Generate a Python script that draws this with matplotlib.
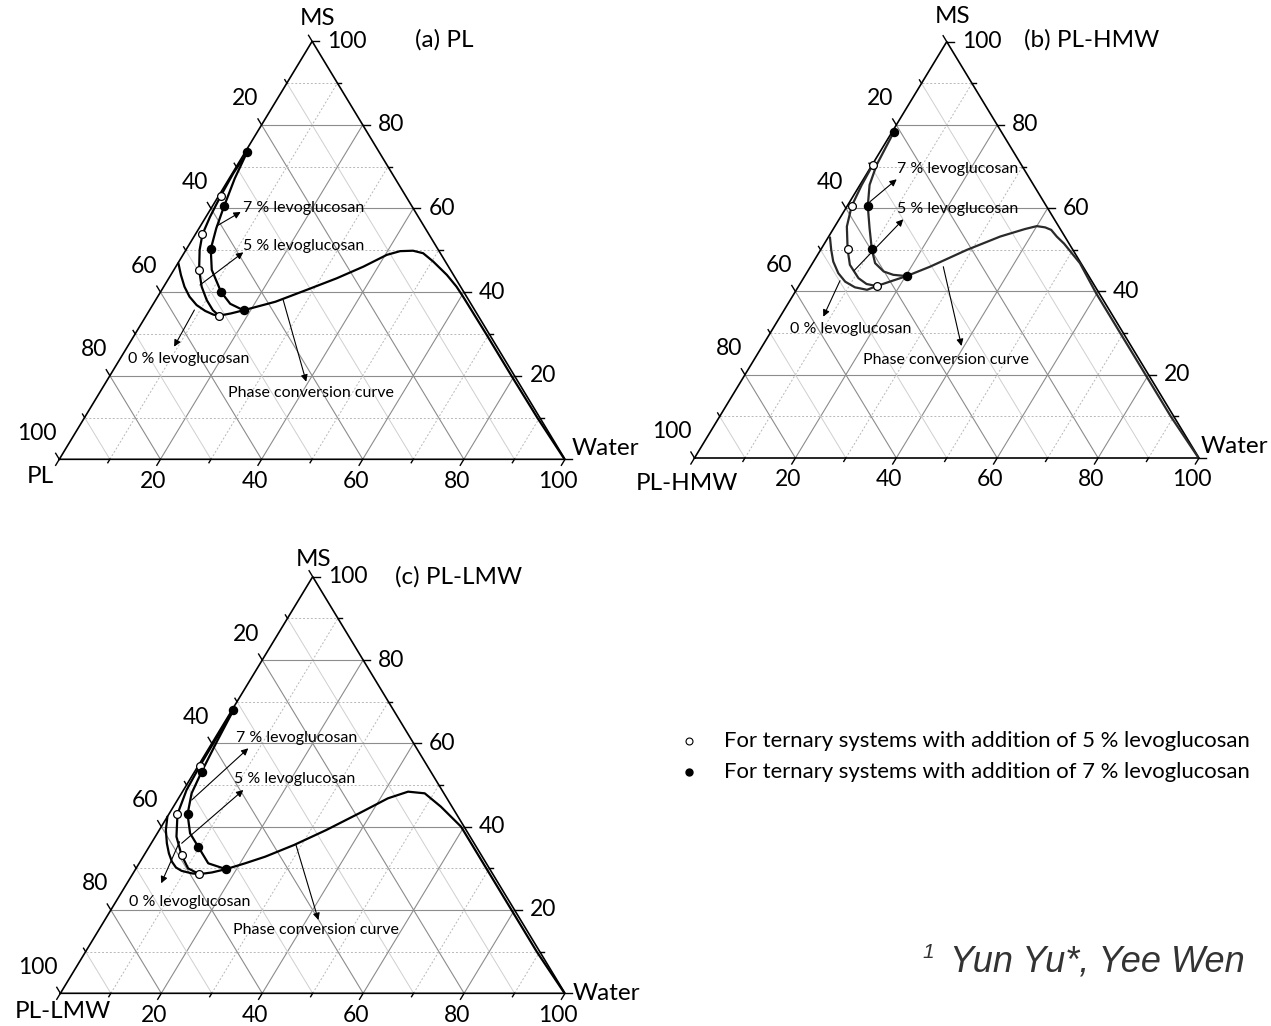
import matplotlib.pyplot as plt

plt.rcParams['font.family'] = ['Lato', 'DejaVu Sans']

# readings from the reference, as (Water %, MS %) pairs
# (a) PL
a_zero_water = [0.1, 2.0, 4.1, 6.3, 8.7, 11.1, 13.2, 14.4]
a_zero_ms = [46.9, 44.1, 41.3, 38.9, 36.9, 35.5, 34.6, 34.35]
a_five_water = [0.4, 0.2, 0.4, 0.8, 1.4, 2.7, 5.0, 7.5, 10.1, 12.5, 14.4]
a_five_ms = [73.4, 68.4, 63.1, 58.0, 53.8, 50.1, 45.3, 41.3, 38.1, 35.7, 34.35]
a_seven_water = [0.4, 1.1, 2.3, 3.4, 4.8, 7.5, 12.0, 15.2, 18.6]
a_seven_ms = [73.4, 67.2, 60.6, 55.3, 50.3, 45.3, 40.0, 37.2, 35.65]
a_open_water = [0.4, 1.4, 5.0, 14.4]
a_open_ms = [63.1, 53.8, 45.3, 34.35]
a_filled_water = [0.4, 2.3, 4.8, 12.0, 18.6]
a_filled_ms = [73.4, 60.6, 50.3, 40.0, 35.65]
a_phase_water = [14.4, 16.5, 18.6, 23.9, 28.6, 33.2, 37.1, 40.3, 42.5, 45.0, 47.3,
                 50.3, 54.6, 57.9, 60.4, 69.4, 79.4, 89.5, 99.6]
a_phase_ms = [34.35, 34.9, 35.65, 37.7, 40.5, 43.3, 46.1, 48.9, 49.8, 49.9, 49.3,
              47.3, 44.1, 41.3, 38.9, 30.0, 20.0, 10.0, 0.3]

# (b) PL-HMW
b_zero_water = [0.35, 2.1, 3.9, 6.3, 8.7, 11.3, 14.0, 15.45]
b_zero_ms = [53.0, 50.0, 47.2, 44.4, 42.35, 41.0, 40.4, 41.3]
b_five_water = [0.13, 0.35, 0.9, 2.4, 5.3, 7.6, 10.9, 13.2, 15.45]
b_five_ms = [70.4, 65.6, 60.5, 55.6, 50.1, 46.4, 43.2, 41.8, 41.3]
b_seven_water = [0.36, 0.9, 1.9, 4.1, 7.1, 10.1, 12.4, 15.1, 17.4, 20.2]
b_seven_ms = [78.2, 70.4, 65.6, 60.5, 55.2, 50.1, 46.8, 44.8, 44.0, 43.7]
b_open_water = [0.13, 0.9, 5.3, 15.45]
b_open_ms = [70.4, 60.5, 50.1, 41.3]
b_filled_water = [0.36, 4.1, 10.1, 20.2]
b_filled_ms = [78.2, 60.5, 50.1, 43.7]
b_phase_water = [15.45, 17.8, 20.2, 23.7, 29.0, 34.0, 38.0, 40.0, 41.8, 43.3, 45.2,
                 47.5, 53.0, 59.8, 69.4, 79.4, 89.4, 99.6]
b_phase_ms = [41.3, 42.5, 43.7, 45.95, 50.0, 53.2, 55.0, 55.7, 55.4, 54.8, 53.2,
              51.5, 46.8, 39.6, 30.0, 20.0, 10.0, 0.3]

# (c) PL-LMW
c_zero_water = [0.0, 1.3, 3.1, 4.7, 6.3, 7.8, 9.3, 11.6, 13.2]
c_zero_ms = [42.4, 39.2, 36.0, 33.6, 31.6, 30.2, 29.4, 28.8, 28.6]
c_five_water = [0.3, 0.3, 0.35, 0.6, 1.7, 4.2, 7.4, 10.3, 13.2]
c_five_ms = [68.0, 60.0, 54.5, 48.8, 43.0, 37.6, 33.2, 30.0, 28.6]
c_seven_water = [0.3, 0.8, 1.4, 2.0, 3.7, 6.5, 9.7, 13.7, 17.9]
c_seven_ms = [68.0, 60.4, 53.2, 48.0, 43.0, 38.4, 35.2, 31.2, 29.8]
c_open_water = [0.35, 1.7, 7.4, 13.2]
c_open_ms = [54.5, 43.0, 33.2, 28.6]
c_filled_water = [0.3, 1.4, 3.7, 9.7, 17.9]
c_filled_ms = [68.0, 53.2, 43.0, 35.2, 29.8]
c_phase_water = [13.2, 15.5, 17.9, 21.0, 24.2, 28.5, 33.1, 37.6, 41.5, 44.7, 48.2,
                 53.0, 59.4, 69.4, 79.4, 89.4, 99.6]
c_phase_ms = [28.6, 29.0, 29.8, 31.2, 32.8, 35.6, 39.2, 43.2, 46.8, 48.4, 48.0,
              44.8, 40.0, 30.0, 20.0, 10.0, 0.3]

tick_values = [0, 10, 20, 30, 40, 50, 60, 70, 80, 90, 100]
label_values = [20, 40, 60, 80, 100]

FW, FH = 1271, 1026
NUM_SIZE = 16.5
WORD_SIZE = 17.5
fig = plt.figure(figsize=(FW / 100, FH / 100), dpi=100)


def px(x, y):
    # reference pixel -> figure fraction
    return x / FW, 1 - y / FH


def tern(water, ms):
    xs = [w + m / 2 for w, m in zip(water, ms)]
    return xs, list(ms)


def make_panel(left, right, bottom, top):
    ax = fig.add_axes([left / FW, 1 - bottom / FH, (right - left) / FW, (bottom - top) / FH])
    ax.set_xlim(0, 100)
    ax.set_ylim(0, 100)
    ax.axis('off')
    wpx, hpx = right - left, bottom - top

    # grid
    for v in range(10, 100, 10):
        major = v % 20 == 0
        # constant MS
        ax.plot([v / 2, 100 - v / 2], [v, v], color='#8c8c8c' if major else '#b8b8b8',
                lw=0.8 if major else 0.7, ls='-' if major else (0, (2, 2)), zorder=1)
        # constant water
        ax.plot([v, v + (100 - v) / 2], [0, 100 - v], color='#8c8c8c' if major else '#b8b8b8',
                lw=0.8 if major else 0.7, ls='-' if major else (0, (2, 2)), zorder=1)
        # constant PL
        ax.plot([(100 - v) / 2, 100 - v], [100 - v, 0], color='#8c8c8c' if major else '#cfcfcf',
                lw=0.8 if major else 0.7, zorder=1)

    ax.plot([0, 100, 50, 0], [0, 0, 100, 0], color='black', lw=1.2, zorder=3,
            solid_joinstyle='miter', clip_on=False)

    def off(dx, dy):
        return dx * 100 / wpx, -dy * 100 / hpx

    def tick(x0, y0, ddx, ddy, length):
        vx, vy = ddx * wpx / 100, -ddy * hpx / 100
        n = (vx ** 2 + vy ** 2) ** 0.5
        ox, oy = off(vx / n * length, vy / n * length)
        ax.plot([x0, x0 + ox], [y0, y0 + oy], color='black', lw=1.0, clip_on=False, zorder=3)

    for v in tick_values:
        ln = 7 if v % 20 == 0 else 4
        tick(v, 0, -0.5, -1, ln)                 # water (bottom)
        tick((100 - v) / 2, 100 - v, -0.5, 1, ln)  # PL (left)
        tick(100 - v / 2, v, 1, 0, ln)           # MS (right)

    for v in label_values:
        dx, dy = off(-7, 22)
        ax.text(v + dx, dy, str(v), ha='center', va='center', fontsize=NUM_SIZE)
        dx, dy = off(-3, -26)
        ax.text((100 - v) / 2 + dx, 100 - v + dy, str(v), ha='right', va='center', fontsize=NUM_SIZE)
        dx, dy = off(15, 0)
        ax.text(100 - v / 2 + dx, v + dy, str(v), ha='left', va='center', fontsize=NUM_SIZE)
    return ax


def draw_curves(ax, zero, five, seven, phase, opened, filled, color):
    for w, m in (zero, five, seven, phase):
        xs, ys = tern(w, m)
        ax.plot(xs, ys, color=color, lw=1.6, zorder=4, solid_capstyle='round')
    xs, ys = tern(*opened)
    ax.plot(xs, ys, 'o', ms=5.6, mfc='white', mec='black', mew=0.9, zorder=5)
    xs, ys = tern(*filled)
    ax.plot(xs, ys, 'o', ms=5.8, mfc='black', mec='black', zorder=5)


def arrow(x0, y0, x1, y1):
    fig.add_artist(plt.matplotlib.patches.FancyArrowPatch(
        px(x0, y0), px(x1, y1), transform=fig.transFigure, arrowstyle='-|>',
        mutation_scale=10, lw=0.8, color='black', shrinkA=0, shrinkB=0, zorder=6))


def note(x, y, s, size=11.5):
    fig.text(*px(x, y), s, ha='left', va='center', fontsize=size, zorder=6)


def word(x, y, s, ha='center'):
    fig.text(*px(x, y), s, ha=ha, va='center', fontsize=WORD_SIZE)


ax_a = make_panel(59.3, 565.0, 459.3, 41.3)
draw_curves(ax_a, (a_zero_water, a_zero_ms), (a_five_water, a_five_ms),
            (a_seven_water, a_seven_ms), (a_phase_water, a_phase_ms),
            (a_open_water, a_open_ms), (a_filled_water, a_filled_ms), 'black')

ax_b = make_panel(694.5, 1199.0, 458.0, 41.7)
draw_curves(ax_b, (b_zero_water, b_zero_ms), (b_five_water, b_five_ms),
            (b_seven_water, b_seven_ms), (b_phase_water, b_phase_ms),
            (b_open_water, b_open_ms), (b_filled_water, b_filled_ms), '#2a2a2a')

ax_c = make_panel(60.4, 565.0, 993.3, 576.7)
draw_curves(ax_c, (c_zero_water, c_zero_ms), (c_five_water, c_five_ms),
            (c_seven_water, c_seven_ms), (c_phase_water, c_phase_ms),
            (c_open_water, c_open_ms), (c_filled_water, c_filled_ms), 'black')

# corner labels and titles
word(317.6, 18.3, 'MS')
word(40.2, 476.7, 'PL')
word(572, 448.3, 'Water', 'left')
word(415, 40, '(a) PL', 'left')

word(953, 16.7, 'MS')
word(687, 484, 'PL-HMW')
word(1201, 446.7, 'Water', 'left')
word(1024.5, 40, '(b) PL-HMW', 'left')

word(314, 560, 'MS')
word(63, 1012, 'PL-LMW')
word(573, 993, 'Water', 'left')
word(395, 577, '(c) PL-LMW', 'left')

# annotations (a)
note(242.7, 208.3, '7 % levoglucosan')
note(242.7, 245.7, '5 % levoglucosan')
note(128.2, 359, '0 % levoglucosan')
note(228.5, 393.3, 'Phase conversion curve')
arrow(216.7, 226, 240.7, 212)
arrow(200, 285, 243.3, 252.3)
arrow(194.4, 310, 174.1, 346.7)
arrow(283.2, 300, 306.2, 381.7)

# annotations (b)
note(896.7, 169.3, '7 % levoglucosan')
note(896.7, 209.3, '5 % levoglucosan')
note(790, 329, '0 % levoglucosan')
note(863, 360, 'Phase conversion curve')
arrow(870, 201.7, 896.7, 179.3)
arrow(854, 270.7, 903.3, 219.3)
arrow(840, 280.7, 823.3, 316.7)
arrow(943.3, 266.7, 961.5, 346)

# annotations (c)
note(236, 738.3, '7 % levoglucosan')
note(234, 779, '5 % levoglucosan')
note(128.6, 901.7, '0 % levoglucosan')
note(232.7, 930, 'Phase conversion curve')
arrow(191.7, 800, 248.3, 748.3)
arrow(181.7, 843.3, 243.3, 790)
arrow(179.6, 841.7, 161.2, 883.3)
arrow(296, 845, 318.4, 920)

# legend
fig.lines.append(plt.Line2D([px(688.5, 0)[0]], [px(0, 740.7)[1]], marker='o', ms=5,
                            mfc='white', mec='black', mew=0.8, transform=fig.transFigure))
fig.lines.append(plt.Line2D([px(688.5, 0)[0]], [px(0, 771.7)[1]], marker='o', ms=5,
                            mfc='black', mec='black', transform=fig.transFigure))
note(723.7, 740.7, 'For ternary systems with addition of 5 % levoglucosan', 15.9)
note(723.7, 771.7, 'For ternary systems with addition of 7 % levoglucosan', 15.9)

# author line
fig.text(*px(922, 953), '1', ha='left', va='center', fontsize=15, style='italic',
         family='Liberation Sans', color='#333333')
fig.text(*px(950, 971.7), 'Yun Yu*, Yee Wen', ha='left', va='baseline', fontsize=26,
         style='italic', family='Liberation Sans', color='#333333')

fig.savefig('out.png', dpi=100)
